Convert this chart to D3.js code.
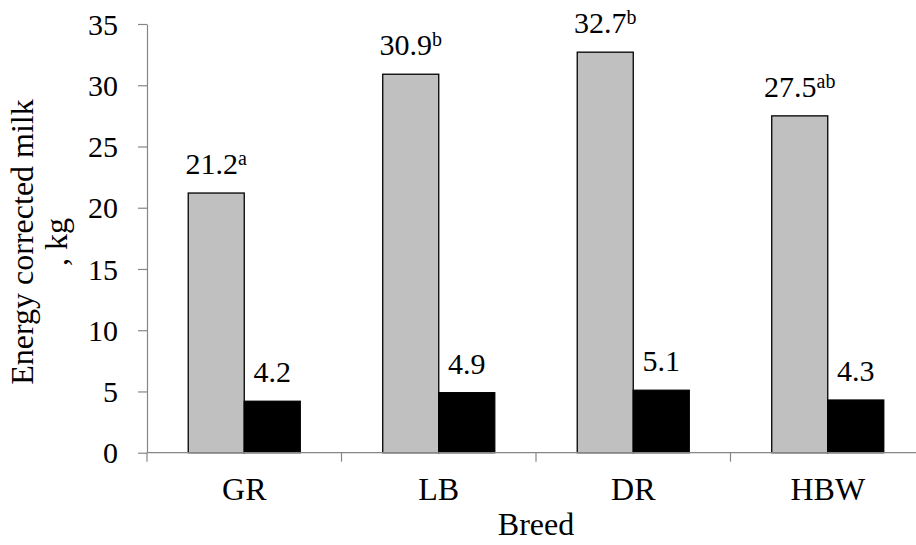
<!DOCTYPE html>
<html>
<head>
<meta charset="utf-8">
<script src="https://cdn.jsdelivr.net/npm/d3@7"></script>
<style>
  html, body { margin: 0; padding: 0; background: #fff; }
  svg, svg text { font-family: "Liberation Serif", "Times New Roman", serif !important; }
</style>
</head>
<body>
<svg id="chart" width="916" height="545"></svg>
<script>
// ---- data ----
const breeds = ["GR", "LB", "DR", "HBW"];
const series1 = [21.2, 30.9, 32.7, 27.5];      // gray bars
const series1Sup = ["a", "b", "b", "ab"];       // superscript letters
const series2 = [4.2, 4.9, 5.1, 4.3];           // black bars
const yTicks = [0, 5, 10, 15, 20, 25, 30, 35];
const yTitleLines = ["Energy corrected milk", ", kg"];
const xTitle = "Breed";

// ---- layout ----
const svg = d3.select("#chart");
const mLeft = 147, mRight = 925, mTop = 24, mBottom = 452.7;
const serif = "'Liberation Serif', 'Times New Roman', serif";

const x0 = d3.scaleBand().domain(breeds).range([mLeft, mRight])
  .paddingInner(0.424).paddingOuter(0.212);
const x1 = d3.scaleBand().domain([0, 1]).range([0, x0.bandwidth()]).padding(0);
const y = d3.scaleLinear().domain([0, 35]).range([mBottom, mTop]);

const axisColor = "#868686";

// y axis
const yAxis = svg.append("g").attr("transform", `translate(${mLeft},0)`)
  .call(d3.axisLeft(y).tickValues(yTicks).tickSize(9).tickPadding(20).tickSizeOuter(0));
yAxis.attr("font-family", serif);
yAxis.select(".domain").attr("stroke", axisColor).attr("stroke-width", 1.2);
yAxis.selectAll(".tick line").attr("stroke", axisColor).attr("stroke-width", 1.2);
yAxis.selectAll(".tick text").attr("font-size", 30).attr("fill", "#000")
  .attr("font-family", serif).attr("dy", "0.34em");

// bars
const groups = svg.append("g").selectAll("g").data(breeds).join("g")
  .attr("transform", d => `translate(${x0(d)},0)`);

groups.append("rect")
  .attr("x", x1(0)).attr("width", x1.bandwidth())
  .attr("y", (d, i) => y(series1[i])).attr("height", (d, i) => y(0) - y(series1[i]))
  .attr("fill", "#c0c0c0").attr("stroke", "#000").attr("stroke-width", 1.3);

groups.append("rect")
  .attr("x", x1(1)).attr("width", x1.bandwidth())
  .attr("y", (d, i) => y(series2[i])).attr("height", (d, i) => y(0) - y(series2[i]))
  .attr("fill", "#000").attr("stroke", "#000").attr("stroke-width", 1.3);

// value labels
const lbl1 = groups.append("text")
  .attr("x", x1(0) + x1.bandwidth() / 2)
  .attr("y", (d, i) => y(series1[i]) - 19)
  .attr("text-anchor", "middle").attr("font-size", 30).attr("font-family", serif).attr("fill", "#000");
lbl1.append("tspan").text((d, i) => series1[i].toFixed(1));
lbl1.append("tspan").attr("font-size", 20).attr("dy", -9).text((d, i) => series1Sup[i]);

groups.append("text")
  .attr("x", x1(1) + x1.bandwidth() / 2)
  .attr("y", (d, i) => y(series2[i]) - 19)
  .attr("text-anchor", "middle").attr("font-size", 30).attr("font-family", serif).attr("fill", "#000")
  .text((d, i) => series2[i].toFixed(1));

// x axis
const xg = svg.append("g");
xg.append("line").attr("x1", mLeft).attr("x2", mRight).attr("y1", y(0)).attr("y2", y(0))
  .attr("stroke", axisColor).attr("stroke-width", 1.2);
const step = x0.step();
const boundaries = breeds.map(d => x0(d) - (step - x0.bandwidth()) / 2).concat([mRight]);
xg.selectAll("line.tk").data(boundaries).join("line").attr("class", "tk")
  .attr("x1", d => d).attr("x2", d => d).attr("y1", y(0)).attr("y2", y(0) + 9)
  .attr("stroke", axisColor).attr("stroke-width", 1.2);
xg.selectAll("text.cat").data(breeds).join("text").attr("class", "cat")
  .attr("x", d => x0(d) + x0.bandwidth() / 2).attr("y", 500)
  .attr("text-anchor", "middle").attr("font-size", 32).attr("font-family", serif).attr("fill", "#000").text(d => d);

// axis titles
svg.append("text").attr("x", (mLeft + mRight) / 2).attr("y", 535)
  .attr("text-anchor", "middle").attr("font-size", 32).attr("font-family", serif).attr("fill", "#000").text(xTitle);

const yt = svg.append("text").attr("transform", "translate(0,242) rotate(-90)")
  .attr("text-anchor", "middle").attr("font-size", 32).attr("font-family", serif).attr("fill", "#000");
yt.append("tspan").attr("x", 0).attr("y", 33).text(yTitleLines[0]);
yt.append("tspan").attr("x", 0).attr("y", 67).text(yTitleLines[1]);
</script>
</body>
</html>
